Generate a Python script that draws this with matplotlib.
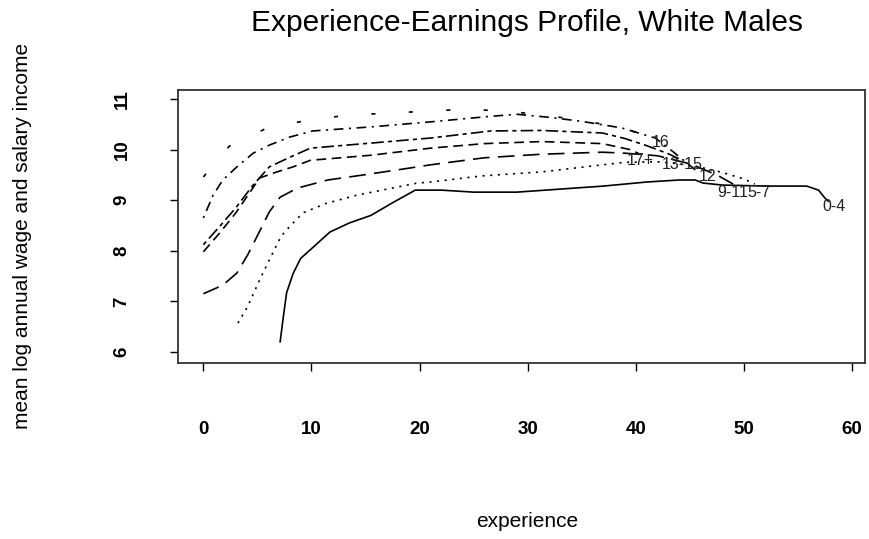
# Experience-Earnings Profile, White Males

# Importing the libraries
import numpy as np
import matplotlib
matplotlib.use('Agg')
import matplotlib.pyplot as plt

plt.rcParams['font.family'] = ['Liberation Sans', 'DejaVu Sans']
plt.rcParams['lines.scale_dashes'] = False

# Profiles (experience, mean log income)
exp_0_4 = [7.1, 7.4, 7.7, 8.3, 9.0, 10.1, 11.7, 13.5, 15.5, 17.5, 19.6, 22, 25, 29, 33, 37, 41, 44, 45.5, 46.2, 48, 52, 55.8, 56.9, 57.5, 57.8]
inc_0_4 = [6.2, 6.7, 7.17, 7.55, 7.85, 8.06, 8.37, 8.55, 8.7, 8.95, 9.2, 9.2, 9.16, 9.16, 9.22, 9.28, 9.36, 9.4, 9.4, 9.34, 9.3, 9.28, 9.28, 9.2, 9.04, 8.98]

exp_5_7 = [3.2, 4.1, 5.2, 6.1, 7.1, 7.5, 9.2, 11.4, 14.2, 19.8, 21, 25.7, 31.3, 36.9, 39, 42, 45, 48, 50, 51]
inc_5_7 = [6.57, 6.9, 7.42, 7.82, 8.25, 8.37, 8.75, 8.94, 9.1, 9.34, 9.36, 9.48, 9.56, 9.7, 9.75, 9.76, 9.7, 9.55, 9.42, 9.32]

exp_9_11 = [0, 1.8, 3.1, 4.1, 5.0, 6.1, 7.1, 8.7, 11.5, 14.8, 19.2, 21, 26, 31.3, 36.9, 39, 42, 45, 47.5, 49]
inc_9_11 = [7.15, 7.32, 7.56, 7.92, 8.3, 8.77, 9.06, 9.24, 9.4, 9.5, 9.64, 9.7, 9.84, 9.91, 9.95, 9.93, 9.88, 9.72, 9.5, 9.32]

exp_12 = [0, 1.5, 3.0, 4.6, 5.2, 6.8, 8.3, 9.9, 15.5, 21, 26, 31.3, 36.9, 39.5, 40.5]
inc_12 = [7.98, 8.35, 8.75, 9.25, 9.44, 9.56, 9.66, 9.79, 9.89, 10.03, 10.12, 10.16, 10.12, 10.0, 9.9]

exp_13_15 = [0, 1.5, 3.0, 4.6, 6.1, 8.0, 9.9, 15.5, 21, 26.6, 31.3, 36.9, 39, 41, 43, 44.2]
inc_13_15 = [8.12, 8.48, 8.85, 9.3, 9.66, 9.85, 10.03, 10.13, 10.23, 10.37, 10.38, 10.33, 10.22, 10.08, 9.92, 9.8]

exp_16 = [0, 0.9, 1.8, 3.1, 4.6, 6.1, 8.0, 10.1, 15.5, 21, 26.6, 29, 32, 35, 38.7, 41.8, 43.5, 45.5]
inc_16 = [8.65, 9.1, 9.4, 9.66, 9.93, 10.09, 10.25, 10.37, 10.45, 10.55, 10.66, 10.7, 10.64, 10.56, 10.43, 10.23, 9.95, 9.6]

exp_17 = [0, 2.4, 5.9, 9.4, 13.2, 16.9, 20.6, 24.3, 28.2, 31.6, 35, 38.5, 41.5]
inc_17 = [9.46, 10.07, 10.43, 10.57, 10.68, 10.72, 10.76, 10.8, 10.76, 10.68, 10.58, 10.44, 10.25]

# Group labels at the end of the curves
group_names = ['0-4', '5-7', '9-11', '12', '13-15', '16', '17+']
label_x = [58.3, 51.4, 49.0, 46.6, 44.3, 42.3, 40.4]
label_y = [8.88, 9.16, 9.16, 9.46, 9.70, 10.15, 9.79]

x_ticks = [0, 10, 20, 30, 40, 50, 60]
y_ticks = [6, 7, 8, 9, 10, 11]

# Visualising the profiles
fig = plt.figure(figsize=(8.69, 5.39), dpi=100)
ax = fig.add_axes([0.2048, 0.3265, 0.7906, 0.5065])

lw = 1.2
ax.plot(exp_0_4, inc_0_4, color='black', lw=lw, linestyle='-')
ax.plot(exp_5_7, inc_5_7, color='black', lw=lw, linestyle=(0, (1.5, 4)))
ax.plot(exp_9_11, inc_9_11, color='black', lw=lw, linestyle=(0, (12, 6)))
ax.plot(exp_12, inc_12, color='black', lw=lw, linestyle=(0, (7, 4)))
ax.plot(exp_13_15, inc_13_15, color='black', lw=lw, linestyle=(0, (3, 3, 9, 3)))
ax.plot(exp_16, inc_16, color='black', lw=lw, linestyle=(0, (1.5, 4, 7, 4)))
ax.plot(exp_17, inc_17, color='black', lw=lw, linestyle=(0, (3, 24)))

for name, lx, ly in zip(group_names, label_x, label_y):
    ax.text(lx, ly, name, fontsize=11.5, ha='center', va='center', color='#222222')

ax.set_xlim(-2.35, 61.2)
ax.set_ylim(5.78, 11.18)
ax.set_xticks(x_ticks)
ax.set_yticks(y_ticks)
ax.set_xticklabels([str(t) for t in x_ticks], fontweight='bold', fontsize=13.5)
ax.set_yticklabels([str(t) for t in y_ticks], fontweight='bold', fontsize=13.5,
                   rotation=90, va='center')
ax.tick_params(direction='out', length=6, width=1, pad=36)
ax.tick_params(axis='y', pad=28)
for s in ax.spines.values():
    s.set_linewidth(1.3)
    s.set_color('#333333')

fig.text(0.607, 0.957, 'Experience-Earnings Profile, White Males',
         fontsize=21.5, ha='center', va='center')
fig.text(0.026, 0.562, 'mean log annual wage and salary income',
         fontsize=15, rotation=90, ha='center', va='center')
fig.text(0.607, 0.032, 'experience', fontsize=15, ha='center', va='center')

plt.savefig('out.png', dpi=100)
